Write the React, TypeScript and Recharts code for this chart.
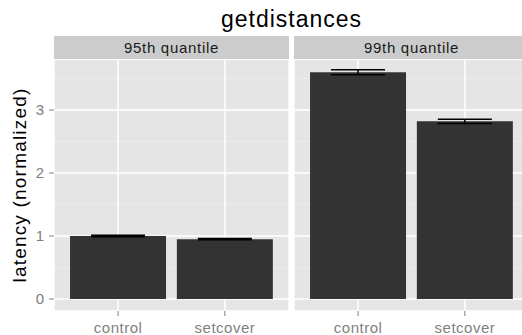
import React from 'react'
import { Bar, BarChart, CartesianGrid, ErrorBar, XAxis, YAxis } from 'recharts'

const categories = ['control', 'setcover']
const q95Values = [1.0, 0.95]
const q95Errors = [0.012, 0.01]
const q99Values = [3.6, 2.82]
const q99Errors = [0.04, 0.035]
const yTicks = [0, 1, 2, 3]
const minorTicks = [0.5, 1.5, 2.5, 3.5]
const facets = ['95th quantile', '99th quantile']

const font = '"Liberation Sans", Arial, Helvetica, sans-serif'
const grey50 = '#7F7F7F'

const q95Data = categories.map((name, i) => ({ name, value: q95Values[i], err: q95Errors[i] }))
const q99Data = categories.map((name, i) => ({ name, value: q99Values[i], err: q99Errors[i] }))

const XTick = (props: any) => {
  const { x, y, payload } = props
  return (
    <g>
      <line x1={x} x2={x} y1={y} y2={y + 5} stroke={grey50} strokeWidth={1} />
      <text
        x={x}
        y={y + 22}
        textAnchor="middle"
        fill={grey50}
        fontSize={15}
        fontFamily={font}
        letterSpacing={0.5}
      >
        {payload.value}
      </text>
    </g>
  )
}

function Panel({ data, showY }: { data: any[]; showY: boolean }) {
  return (
    <BarChart
      width={showY ? 289 : 235}
      height={335}
      data={data}
      margin={{ top: 59, right: 0, left: 0, bottom: 0 }}
      barCategoryGap="5%"
    >
      {/* panel background + minor grid */}
      <CartesianGrid
        fill="#E5E5E5"
        stroke="#F2F2F2"
        strokeWidth={0.6}
        vertical={false}
        horizontalValues={minorTicks}
      />
      <CartesianGrid stroke="#FFFFFF" strokeWidth={1.4} />
      <XAxis
        dataKey="name"
        height={24}
        padding={{ left: 10.7, right: 10.7 }}
        axisLine={false}
        tickLine={false}
        tickSize={0}
        tickMargin={0}
        tick={<XTick />}
        interval={0}
      />
      <YAxis
        hide={!showY}
        width={54}
        domain={[-0.19, 3.81]}
        allowDataOverflow
        ticks={yTicks}
        axisLine={false}
        tickLine={{ stroke: grey50 }}
        tickSize={5}
        tickMargin={5}
        tick={{ fill: grey50, fontSize: 15, fontFamily: font }}
      />
      <Bar dataKey="value" fill="#333333" isAnimationActive={false}>
        <ErrorBar dataKey="err" width={27} stroke="#000000" strokeWidth={1.5} />
      </Bar>
    </BarChart>
  )
}

export default function App() {
  const strip = (label: string, left: number) => (
    <div
      style={{
        position: 'absolute',
        left,
        top: 36,
        width: 235,
        height: 23,
        background: '#CCCCCC',
        color: '#1A1A1A',
        fontFamily: font,
        fontSize: 15,
        letterSpacing: 0.7,
        lineHeight: '23px',
        textAlign: 'center',
      }}
    >
      {label}
    </div>
  )
  return (
    <div style={{ position: 'relative', width: 522, height: 335, overflow: 'hidden', background: '#FFFFFF' }}>
      <style>{'body{margin:0}'}</style>
      <div
        style={{
          position: 'absolute',
          left: 54,
          width: 475,
          top: 5,
          textAlign: 'center',
          fontFamily: font,
          fontSize: 23,
          letterSpacing: 1,
          lineHeight: '28px',
          color: '#000000',
        }}
      >
        getdistances
      </div>
      <div
        style={{
          position: 'absolute',
          left: 20,
          top: 185,
          transform: 'translate(-50%, -50%) rotate(-90deg)',
          whiteSpace: 'nowrap',
          fontFamily: font,
          fontSize: 19,
          letterSpacing: 1.2,
          lineHeight: '22px',
          color: '#000000',
        }}
      >
        latency (normalized)
      </div>
      <div style={{ position: 'absolute', left: 0, top: 0 }}>
        <Panel data={q95Data} showY />
      </div>
      <div style={{ position: 'absolute', left: 294, top: 0 }}>
        <Panel data={q99Data} showY={false} />
      </div>
      {strip(facets[0], 54)}
      {strip(facets[1], 294)}
    </div>
  )
}
